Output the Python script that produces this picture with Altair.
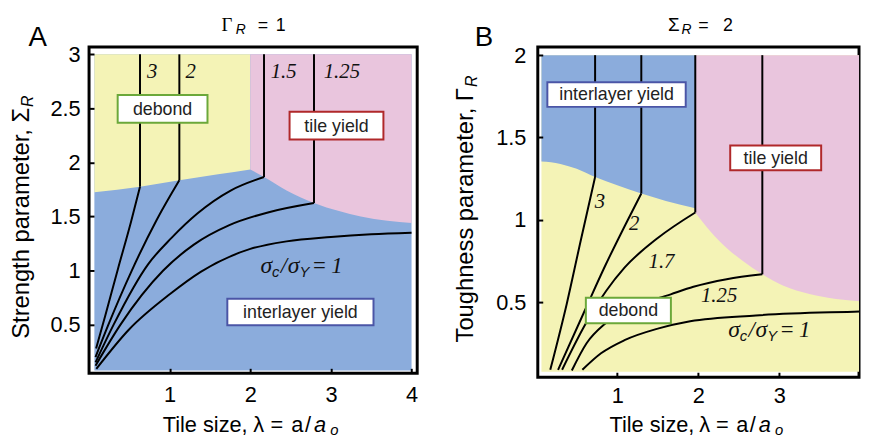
import altair as alt
import pandas as pd

SANS = "Liberation Sans"
SERIF = "Liberation Serif"
YELLOW = "#F4F3B6"
BLUE = "#8BACDC"
PINK = "#E9C5DD"
GREEN = "#6BA83A"
RED = "#B0282A"
NAVY = "#4B55A6"

# ---------------- Panel A : Gamma_R = 1 ----------------
A_xdom = [0.0, 4.07]
A_ydom = [0.05, 3.067]
A_xticks = [1, 2, 3, 4]
A_yticks = [0.5, 1, 1.5, 2, 2.5, 3]
A_field = [0.066, 4.0, 0.076, 3.0]          # interlayer-yield field
A_debond_x = [0.066, 0.632, 1.12, 1.6, 2.0]
A_debond_y = [1.725, 1.775, 1.835, 1.89, 1.935]
A_tile_x = [2.0, 2.17, 2.45, 2.79, 3.1, 3.37, 3.7, 4.0]
A_tile_y = [1.935, 1.865, 1.74, 1.625, 1.55, 1.5, 1.46, 1.44]
A_curves = {
    "3": ([0.088, 0.2, 0.36, 0.52, 0.632], [0.28, 0.58, 1.02, 1.45, 1.775]),
    "2": ([0.08, 0.24, 0.53, 0.84, 1.12], [0.2, 0.5, 1.0, 1.47, 1.835]),
    "1.5": ([0.08, 0.305, 0.734, 1.02, 1.347, 1.756, 2.17], [0.15, 0.5, 1.06, 1.30, 1.53, 1.74, 1.865]),
    "1.25": ([0.08, 0.39, 0.92, 1.3, 1.74, 2.23, 2.79], [0.12, 0.5, 1.0, 1.24, 1.42, 1.54, 1.625]),
    "1": ([0.09, 0.49, 1.0, 1.39, 2.0, 2.45, 3.0, 3.5, 4.0], [0.09, 0.45, 0.78, 0.99, 1.2, 1.27, 1.31, 1.335, 1.35]),
}
A_vert_x = [0.632, 1.12, 2.17, 2.79]
A_vert_y0 = [1.775, 1.835, 1.865, 1.625]
A_vert_y1 = [3.0, 3.0, 3.0, 3.0]
A_box_text = ["debond", "tile yield", "interlayer yield"]
A_box_x0 = [0.355, 2.487, 1.715]
A_box_x1 = [1.469, 3.651, 3.528]
A_box_y0 = [2.367, 2.212, 0.494]
A_box_y1 = [2.623, 2.468, 0.740]
A_box_col = [GREEN, RED, NAVY]
A_num_text = ["3", "2", "1.5", "1.25"]
A_num_x = [0.783, 1.26, 2.413, 3.136]
A_num_y = [2.78, 2.78, 2.78, 2.78]
A_sigma = (2.127, 0.981)

# ---------------- Panel B : Sigma_R = 2 ----------------
B_xdom = [0.02, 3.983]
B_ydom = [0.045, 2.049]
B_xticks = [1, 2, 3]
B_yticks = [0.5, 1, 1.5, 2]
B_field = [0.065, 4.05, 0.078, 2.0]          # debond field
B_inter_x = [0.065, 0.3, 0.5, 0.727, 1.0, 1.297, 1.6, 1.963]
B_inter_y = [1.354, 1.34, 1.31, 1.26, 1.21, 1.16, 1.115, 1.07]
B_tile_x = [1.963, 2.15, 2.35, 2.55, 2.79, 3.05, 3.37, 3.7, 4.05]
B_tile_y = [1.045, 0.93, 0.83, 0.75, 0.67, 0.6, 0.55, 0.52, 0.505]
B_curves = {
    "3": ([0.174, 0.377, 0.55, 0.727], [0.09, 0.49, 0.875, 1.26]),
    "2": ([0.27, 0.6, 0.85, 1.11, 1.297], [0.09, 0.45, 0.72, 0.98, 1.16]),
    "1.7": ([0.32, 0.6, 0.865, 1.09, 1.5, 1.963], [0.09, 0.36, 0.57, 0.71, 0.89, 1.045]),
    "1.25": ([0.44, 0.62, 0.85, 1.2, 1.66, 1.94, 2.35, 2.79], [0.086, 0.25, 0.37, 0.47, 0.548, 0.594, 0.64, 0.67]),
    "1": ([0.57, 0.8, 1.09, 1.5, 1.9, 2.71, 3.99, 4.05], [0.09, 0.19, 0.27, 0.34, 0.385, 0.42, 0.444, 0.445]),
}
B_vert_x = [0.727, 1.297, 1.963, 2.79]
B_vert_y0 = [1.26, 1.16, 1.045, 0.67]
B_vert_y1 = [2.0, 2.0, 2.0, 2.0]
B_box_text = ["interlayer yield", "tile yield", "debond"]
B_box_x0 = [0.138, 2.394, 0.613]
B_box_x1 = [1.845, 3.516, 1.662]
B_box_y0 = [1.686, 1.302, 0.372]
B_box_y1 = [1.836, 1.452, 0.528]
B_box_col = [NAVY, RED, GREEN]
B_num_text = ["3", "2", "1.7", "1.25"]
B_num_x = [0.788, 1.21, 1.546, 2.257]
B_num_y = [1.07, 0.94, 0.71, 0.50]
B_sigma = (2.37, 0.29)

ONE = pd.DataFrame({"k": [0]})


def ptext(text, x, y, size, font=SANS, style="normal", align="left", angle=0):
    return alt.Chart(ONE).mark_text(
        text=text, font=font, fontSize=size, fontStyle=style, align=align,
        baseline="alphabetic", angle=angle, color="black"
    ).encode(x=alt.value(x), y=alt.value(y))


def panel(xdom, ydom, w, h, xticks, yticks, xpad, ypad, field, fieldcol,
          regions, curves, vx, vy0, vy1, bt, bx0, bx1, by0, by1, bc,
          nt, nx, ny, sig, extra):
    sx = alt.Scale(domain=xdom, nice=False, zero=False)
    sy = alt.Scale(domain=ydom, nice=False, zero=False)
    xaxis = alt.Axis(values=xticks, format="~g", labelFont=SANS, labelFontSize=22,
                     labelColor="black", tickColor="black", tickWidth=2, tickSize=5,
                     offset=-5, domain=False, grid=False, title="",
                     labelPadding=xpad, labelFlush=False, zindex=1)
    yaxis = alt.Axis(values=yticks, format="~g", labelFont=SANS, labelFontSize=22,
                     labelColor="black", tickColor="black", tickWidth=2, tickSize=5,
                     offset=-5, domain=False, grid=False, title="",
                     labelPadding=ypad, zindex=1)

    def X(f):
        return alt.X(f, type="quantitative", scale=sx, axis=xaxis)

    def Y(f):
        return alt.Y(f, type="quantitative", scale=sy, axis=yaxis)

    layers = []
    bg = pd.DataFrame({"x0": [field[0]], "x1": [field[1]], "y0": [field[2]], "y1": [field[3]]})
    layers.append(alt.Chart(bg).mark_rect(color=fieldcol, clip=True).encode(
        x=X("x0"), x2="x1", y=Y("y0"), y2="y1"))
    for xs, ys, top, col in regions:
        df = pd.DataFrame({"x": xs, "y": ys, "top": [top] * len(xs)})
        layers.append(alt.Chart(df).mark_area(color=col, interpolate="monotone", clip=True).encode(
            x=X("x"), y=Y("y"), y2="top"))
    rows = []
    for name, (xs, ys) in curves.items():
        for i, (a, b) in enumerate(zip(xs, ys)):
            rows.append({"s": name, "x": a, "y": b, "i": i})
    cdf = pd.DataFrame(rows)
    layers.append(alt.Chart(cdf).mark_line(color="black", strokeWidth=2, interpolate="monotone", clip=True).encode(
        x=X("x"), y=Y("y"), detail="s:N", order="i:Q"))
    vdf = pd.DataFrame({"x": vx, "y0": vy0, "y1": vy1})
    layers.append(alt.Chart(vdf).mark_rule(color="black", strokeWidth=2).encode(
        x=X("x"), y=Y("y0"), y2="y1"))
    bdf = pd.DataFrame({"t": bt, "x0": bx0, "x1": bx1, "y0": by0, "y1": by1, "c": bc})
    bdf["xm"] = (bdf.x0 + bdf.x1) / 2
    bdf["ym"] = (bdf.y0 + bdf.y1) / 2
    layers.append(alt.Chart(bdf).mark_rect(fill="white", strokeWidth=2).encode(
        x=X("x0"), x2="x1", y=Y("y0"), y2="y1", stroke=alt.Stroke("c:N", scale=None)))
    layers.append(alt.Chart(bdf).mark_text(font=SANS, fontSize=18, color="#222222",
                                           align="center", baseline="middle", dy=1).encode(
        x=X("xm"), y=Y("ym"), text="t:N"))
    ndf = pd.DataFrame({"t": nt, "x": nx, "y": ny})
    layers.append(alt.Chart(ndf).mark_text(font=SERIF, fontStyle="italic", fontSize=21, color="#111111",
                                           align="center", baseline="alphabetic").encode(
        x=X("x"), y=Y("y"), text="t:N"))
    sdf = pd.DataFrame({"x": [sig[0]], "y": [sig[1]]})
    pieces = [("σ", 0, 0, SERIF, 24, "italic"), ("c", 11.5, 4.5, SANS, 15, "italic"),
              ("/", 20.5, 0, SERIF, 23, "italic"), ("σ", 27.5, 0, SERIF, 24, "italic"),
              ("Y", 39.5, 4.5, SANS, 15, "italic"), ("=", 53, 0, SERIF, 23, "normal"),
              ("1", 71.5, 0, SERIF, 23, "italic")]
    for t, dx, dy, f, s, st in pieces:
        layers.append(alt.Chart(sdf).mark_text(text=t, font=f, fontSize=s, fontStyle=st, color="#111111",
                                               align="left", baseline="alphabetic", dx=dx, dy=dy).encode(
            x=X("x"), y=Y("y")))
    layers += extra
    return alt.layer(*layers).properties(width=w, height=h)


A_extra = [
    ptext("A", -52, -1.5, 28, align="center"),
    ptext("Γ", 139.5, -16.5, 19, font=SERIF, align="center"),
    ptext("R", 148.5, -13.5, 14, style="italic"),
    ptext("=", 176, -16.5, 18, align="center"),
    ptext("1", 194, -16.5, 18, align="center"),
    ptext("Strength parameter, Σ", -60.8, 61.5, 24, align="right", angle=270),
    ptext("R", -57, 60.5, 16, style="italic", angle=270),
    ptext("Tile size,", 74.5, 389.8, 22),
    ptext("λ", 171.5, 389.8, 22, align="center"),
    ptext("=", 190, 389.8, 22, align="center"),
    ptext("a", 204.5, 389.8, 22),
    ptext("/", 221.5, 389.8, 22, align="center"),
    ptext("a", 227.5, 389.8, 22, style="italic"),
    ptext("o", 244, 392, 15, style="italic"),
]
B_extra = [
    ptext("B", -54.5, -1.5, 28, align="center"),
    ptext("Σ", 137.5, -16.5, 19, align="center"),
    ptext("R", 145.5, -13.5, 14, style="italic"),
    ptext("=", 167.5, -16.5, 18, align="center"),
    ptext("2", 192.5, -16.5, 18, align="center"),
    ptext("Toughness parameter, Γ", -65.8, 41.5, 24, align="right", angle=270),
    ptext("R", -61.5, 40.5, 16, style="italic", angle=270),
    ptext("Tile size,", 72.5, 389.8, 22),
    ptext("λ", 168.8, 389.8, 22, align="center"),
    ptext("=", 186.7, 389.8, 22, align="center"),
    ptext("a", 200.8, 389.8, 22),
    ptext("/", 217.5, 389.8, 22, align="center"),
    ptext("a", 223.5, 389.8, 22, style="italic"),
    ptext("o", 240, 392, 15, style="italic"),
]

chartA = panel(A_xdom, A_ydom, 332, 330, A_xticks, A_yticks, 12, 9, A_field, BLUE,
               [(A_debond_x, A_debond_y, 3.0, YELLOW), (A_tile_x, A_tile_y, 3.0, PINK)],
               A_curves, A_vert_x, A_vert_y0, A_vert_y1,
               A_box_text, A_box_x0, A_box_x1, A_box_y0, A_box_y1, A_box_col,
               A_num_text, A_num_x, A_num_y, A_sigma, A_extra)
chartB = panel(B_xdom, B_ydom, 325, 334, B_xticks, B_yticks, 9, 12, B_field, YELLOW,
               [(B_inter_x, B_inter_y, 2.0, BLUE), (B_tile_x, B_tile_y, 2.0, PINK)],
               B_curves, B_vert_x, B_vert_y0, B_vert_y1,
               B_box_text, B_box_x0, B_box_x1, B_box_y0, B_box_y1, B_box_col,
               B_num_text, B_num_x, B_num_y, B_sigma, B_extra)

chart = alt.hconcat(chartA, chartB, spacing=122, bounds="flush").properties(
    padding={"left": 0, "top": 4, "right": 0, "bottom": 0}
).configure(background="white").configure_view(stroke="black", strokeWidth=3)

chart.save("out.html", embed_options={"renderer": "svg", "actions": False})
